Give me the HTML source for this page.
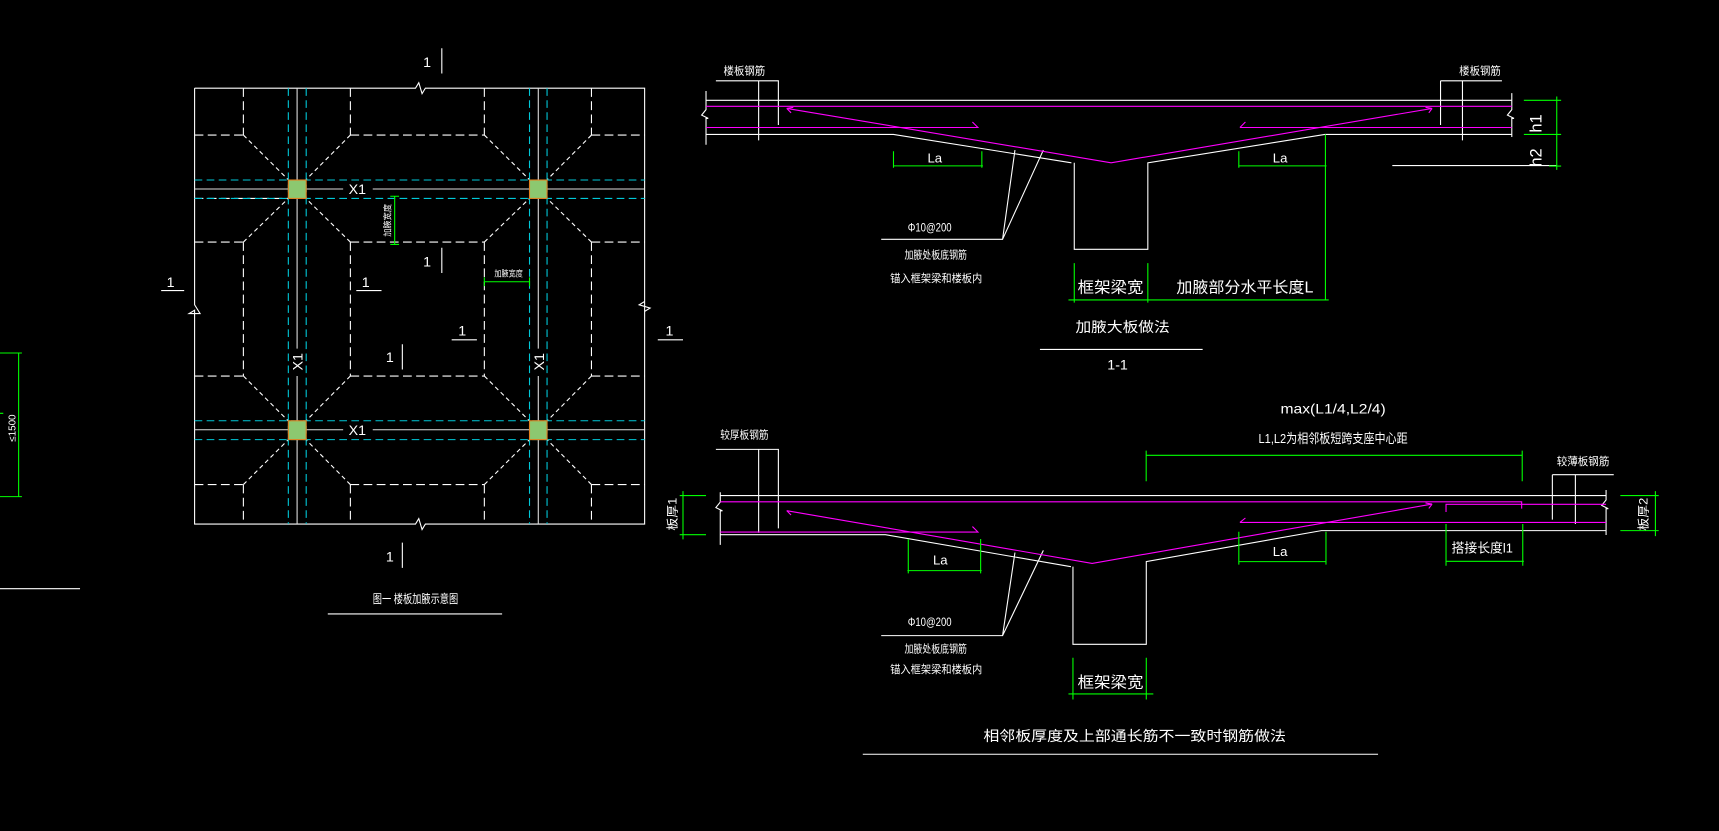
<!DOCTYPE html>
<html><head><meta charset="utf-8"><style>
html,body{margin:0;padding:0;background:#000;}
svg{display:block}
text{font-family:"Liberation Sans","Noto Sans CJK SC",sans-serif;fill:#fff;}
</style></head><body>
<svg width="1719" height="831" viewBox="0 0 1568 758" preserveAspectRatio="none" xmlns="http://www.w3.org/2000/svg">
<rect width="1568" height="758" fill="#000"/>
<g fill="none" stroke-width="1">
<!-- PLAN -->
<g stroke="#fff">
<path d="M177.5 80.4H379l3-5 3 10 3-5H588V478H388l-3 5-3-10-3 5H177.5V283l-5 3 10 0-5-8V80.4"/>
<path d="M588 275l-5 3 10 3-5 3"/>
</g>
<g stroke="#fff" stroke-dasharray="8,4">
<path d="M177.5 123.2H222M319.6 123.2H441.8M539.5 123.2H588"/>
<path d="M177.5 220.8H222M319.6 220.8H441.8M539.5 220.8H588"/>
<path d="M177.5 343H222M319.6 343H441.8M539.5 343H588"/>
<path d="M177.5 442H222M319.6 442H441.8M539.5 442H588"/>
<path d="M222 80.4V123.2M222 220.8V343M222 442V478"/>
<path d="M319.6 80.4V123.2M319.6 220.8V343M319.6 442V478"/>
<path d="M441.8 80.4V123.2M441.8 220.8V343M441.8 442V478"/>
<path d="M539.5 80.4V123.2M539.5 220.8V343M539.5 442V478"/>
<path d="M177.5 181H263"/>
</g>
<g stroke="#fff" stroke-dasharray="4,3">
<path d="M222 123.2L263 164M319.6 123.2L279 164M222 220.8L263 181M319.6 220.8L279 181"/>
<path d="M441.8 123.2L483 164M539.5 123.2L499 164M441.8 220.8L483 181M539.5 220.8L499 181"/>
<path d="M222 343L263 384M319.6 343L279 384M222 442L263 401M319.6 442L279 401"/>
<path d="M441.8 343L483 384M539.5 343L499 384M441.8 442L483 401M539.5 442L499 401"/>
</g>
<g stroke="#00c8d8" stroke-dasharray="7,4">
<path d="M177.5 164.2H588M177.5 181H588M177.5 383.8H588M177.5 401H588"/>
<path d="M263 80.4V478M279.3 80.4V478M483 80.4V478M499 80.4V478"/>
</g>
<g stroke="#ddd">
<path d="M177.5 172.4H263M279 172.4H313M340 172.4H483M499 172.4H588"/>
<path d="M177.5 392H263M279 392H313M340 392H483M499 392H588"/>
<path d="M271 80.4V164M271 181V318M271 343V384M271 401V478"/>
<path d="M491 80.4V164M491 181V318M491 343V384M491 401V478"/>
</g>
</g>
<g fill="#8cc870" stroke="#e08020" stroke-width="1">
<rect x="263" y="164.2" width="16.3" height="16.8"/>
<rect x="483" y="164.2" width="16" height="16.8"/>
<rect x="263" y="383.8" width="16.3" height="17.2"/>
<rect x="483" y="383.8" width="16" height="17.2"/>
</g>
<g font-size="13">
<text x="318" y="177">X1</text><text x="318" y="397">X1</text>
<text transform="translate(276,338) rotate(-90)">X1</text>
<text transform="translate(496,338) rotate(-90)">X1</text>
</g>
<!-- plan dims -->
<g stroke="#00ff00" fill="none">
<path d="M360 179V223M356 179H364M356 223H364"/>
<path d="M441.8 257H483M441.8 253V261M483 253V261"/>
<path d="M17 322V453M0 322H20M0 453H20M0 377H3"/>
</g>
<text font-size="8" transform="translate(356,216) rotate(-90)" textLength="30" lengthAdjust="spacingAndGlyphs">加腋宽度</text>
<text font-size="8" x="451" y="252" textLength="26" lengthAdjust="spacingAndGlyphs">加腋宽度</text>
<text font-size="9" transform="translate(14,403) rotate(-90)">≤1500</text>
<path d="M0 537H73" stroke="#fff"/>
<!-- section marks -->
<g stroke="#fff" fill="none">
<path d="M403 44V67M403 226V249M147 265H168M325 265H348M412 310H435M367 314V337M600 310H623M367 495V518"/>
<path d="M299 560H458"/>
</g>
<g font-size="13">
<text x="386" y="61">1</text><text x="386" y="243">1</text><text x="152" y="262">1</text>
<text x="330" y="262">1</text><text x="418" y="306">1</text><text x="352" y="330">1</text>
<text x="607" y="306">1</text><text x="352" y="512">1</text>
</g>
<text font-size="11" x="340" y="550" textLength="78" lengthAdjust="spacingAndGlyphs">图一 楼板加腋示意图</text>

<!-- SECTION 1-1 -->
<g stroke="#fff" fill="none">
<path d="M644 91.5H1379M644 122.6H815L977.3 148.5M979.9 148.5V227.4H1047V148.5L1208.5 122.6H1379"/>
<path d="M644 83V100l-4 5 6 3-2 0V132M1379 85V100l-4 5 6 3-2 0V125"/>
<path d="M653 73.7H710V114M692 73.7V128M1314 73.7H1370M1314 73.7V114M1334 73.7V128"/>
<path d="M1270 151H1420"/>
<path d="M803.8 218.3H914.5L925.8 136.9M914.5 218.3L951.7 136.9"/>
<path d="M948.6 318.7H1097"/>
</g>
<g stroke="#ff00ff" fill="none">
<path d="M644 97H1379M644 116.3H892l-5-5M1131 116.3H1379M1131 116.3l5-5"/>
<path d="M717.6 98.9L1013.5 148.5L1306.3 98.9M717.6 98.9l4 4M717.6 98.9l6-1M1306.3 98.9l-6 -1M1306.3 98.9l-3 4"/>
</g>
<g stroke="#00ff00" fill="none">
<path d="M1420 88V155M1390 91.5H1424M1390 122.6H1424M1413 151.5H1424"/>
<path d="M814.7 151.3H896.6M815 138V153M895.6 138V153"/>
<path d="M1129.5 151.3H1210M1130 138V153M1209 122.6V273.6"/>
<path d="M974.6 273.6H1212M979.9 240V276M1047 240V276"/>
</g>
<g font-size="10">
<text x="660" y="68" textLength="38" lengthAdjust="spacingAndGlyphs">楼板钢筋</text>
<text x="1331" y="68" textLength="38" lengthAdjust="spacingAndGlyphs">楼板钢筋</text>
</g>
<text font-size="15" transform="translate(1406,121) rotate(-90)">h1</text>
<text font-size="15" transform="translate(1406,152) rotate(-90)">h2</text>
<text font-size="12" x="846" y="148">La</text>
<text font-size="12" x="1161" y="148">La</text>
<text font-size="11" x="828" y="211" textLength="40" lengthAdjust="spacingAndGlyphs">Φ10@200</text>
<text font-size="10" x="825" y="236" textLength="57" lengthAdjust="spacingAndGlyphs">加腋处板底钢筋</text>
<text font-size="10" x="812" y="257" textLength="84" lengthAdjust="spacingAndGlyphs">锚入框架梁和楼板内</text>
<text font-size="14" x="983" y="267" textLength="60" lengthAdjust="spacingAndGlyphs">框架梁宽</text>
<text font-size="14" x="1073" y="267" textLength="125" lengthAdjust="spacingAndGlyphs">加腋部分水平长度L</text>
<text font-size="13" x="981" y="303" textLength="86" lengthAdjust="spacingAndGlyphs">加腋大板做法</text>
<text font-size="13" x="1010" y="337">1-1</text>

<!-- SECTION 2 -->
<g stroke="#fff" fill="none">
<path d="M657 452H1465M657 487.7H807.6L976.9 516.9M978.7 516.9V587.7H1045.6V512.3L1205.3 484H1465"/>
<path d="M657 449V458l-4 5 6 3-2 0V497M1465 447V456l-4 5 6 3-2 0V488"/>
<path d="M653 409.9H710V482M692 409.9V486M1416 433H1472M1416 433V474M1437 433V478"/>
<path d="M803.8 579.8H914.5L925.8 504M914.5 579.8L951.7 502"/>
<path d="M787 688H1257"/>
</g>
<g stroke="#ff00ff" fill="none">
<path d="M657 457.7H1388V464M1319 467V460H1465M657 485.3H892l-5-5M1131 476.5H1465M1131 476.5l5-4"/>
<path d="M717.6 465.8L996.2 513.9L1306.3 459.8M717.6 465.8l4 4M1306.3 459.8l-6-1M1306.3 459.8l-3 4"/>
</g>
<g stroke="#00ff00" fill="none">
<path d="M1045.2 415.3H1389M1045.5 411V439M1388.5 411V439"/>
<path d="M623 448V492M620 452H644M620 487.7H644"/>
<path d="M1510 448V489M1478 452H1513M1478 484H1513"/>
<path d="M827.7 520.5H895.4M828.5 491.6V523M894.5 491.6V523"/>
<path d="M1129.5 512.3H1210M1130 485V515M1209.5 485V515"/>
<path d="M1318.5 512H1390M1319 478V516M1389 478V516"/>
<path d="M974.6 633H1052M978.7 600V638M1045.6 600V638"/>
</g>
<g font-size="10">
<text x="657" y="400" textLength="44" lengthAdjust="spacingAndGlyphs">较厚板钢筋</text>
<text x="1420" y="424" textLength="48" lengthAdjust="spacingAndGlyphs">较薄板钢筋</text>
</g>
<text font-size="13" x="1168" y="377" textLength="96" lengthAdjust="spacingAndGlyphs">max(L1/4,L2/4)</text>
<text font-size="12" x="1148" y="404" textLength="136" lengthAdjust="spacingAndGlyphs">L1,L2为相邻板短跨支座中心距</text>
<text font-size="11" transform="translate(617,484) rotate(-90)" textLength="30" lengthAdjust="spacingAndGlyphs">板厚1</text>
<text font-size="11" transform="translate(1503,484) rotate(-90)" textLength="30" lengthAdjust="spacingAndGlyphs">板厚2</text>
<text font-size="12" x="851" y="515">La</text>
<text font-size="12" x="1161" y="507">La</text>
<text font-size="12" x="1324" y="504" textLength="56" lengthAdjust="spacingAndGlyphs">搭接长度l1</text>
<text font-size="11" x="828" y="571" textLength="40" lengthAdjust="spacingAndGlyphs">Φ10@200</text>
<text font-size="10" x="825" y="595" textLength="57" lengthAdjust="spacingAndGlyphs">加腋处板底钢筋</text>
<text font-size="10" x="812" y="614" textLength="84" lengthAdjust="spacingAndGlyphs">锚入框架梁和楼板内</text>
<text font-size="14" x="983" y="627" textLength="60" lengthAdjust="spacingAndGlyphs">框架梁宽</text>
<text font-size="13" x="897" y="676" textLength="276" lengthAdjust="spacingAndGlyphs">相邻板厚度及上部通长筋不一致时钢筋做法</text>
</svg>
</body></html>
